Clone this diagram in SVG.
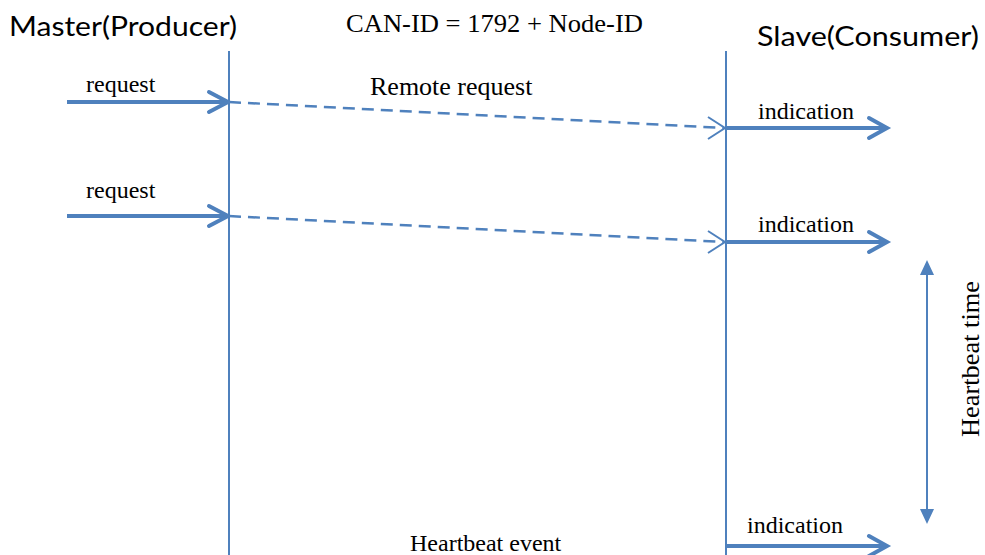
<svg xmlns="http://www.w3.org/2000/svg" width="985" height="555" viewBox="0 0 985 555">
<style>
.life{stroke:#4f81bd;stroke-width:2;fill:none}
.msg{stroke:#4f81bd;stroke-width:4;fill:none}
.head{stroke:#4f81bd;stroke-width:4;fill:none;stroke-linecap:round;stroke-linejoin:miter}
.dash{stroke:#4f81bd;stroke-width:2.5;fill:none;stroke-dasharray:12 7}
.dhead{stroke:#4f81bd;stroke-width:2;fill:none}
.tri{fill:#4f81bd}
.serif{font-family:"Liberation Serif","Times New Roman",serif;fill:#000}
.sans{font-family:Lato,"Liberation Sans",Arial,sans-serif;fill:#000}
</style>
<rect width="985" height="555" fill="#fff"/>
<g id="master">
<text class="sans" x="9" y="36" font-size="27" textLength="228" lengthAdjust="spacingAndGlyphs">Master(Producer)</text>
<line class="life" x1="229" y1="51" x2="229" y2="555"/>
</g>
<g id="slave">
<text class="sans" x="757" y="46" font-size="27" textLength="222" lengthAdjust="spacingAndGlyphs">Slave(Consumer)</text>
<line class="life" x1="726" y1="51" x2="726" y2="555"/>
</g>
<g id="canid"><text class="serif" x="346" y="32" font-size="26" textLength="297" lengthAdjust="spacingAndGlyphs">CAN-ID = 1792 + Node-ID</text></g>
<g id="heartbeat-time"><text class="serif" font-size="25" text-anchor="middle" textLength="156" lengthAdjust="spacingAndGlyphs" transform="translate(979,359) rotate(-90)">Heartbeat time</text></g>
<g id="connectors">
<!-- request 1 -->
<line class="msg" x1="67" y1="102" x2="227" y2="102"/>
<polyline class="head" points="209,92 228,102 209,112"/>
<text class="serif" x="86" y="92" font-size="24">request</text>
<line class="dash" x1="229" y1="102" x2="724" y2="128"/>
<polyline class="dhead" points="708,117 725,128 708,139"/>
<text class="serif" x="370" y="95" font-size="26">Remote request</text>
<line class="msg" x1="726" y1="128" x2="886" y2="128"/>
<polyline class="head" points="869,118 887,128 869,138"/>
<text class="serif" x="758" y="119" font-size="24">indication</text>
<!-- request 2 -->
<line class="msg" x1="67" y1="216" x2="227" y2="216"/>
<polyline class="head" points="209,206 228,216 209,226"/>
<text class="serif" x="86" y="198" font-size="24">request</text>
<line class="dash" x1="229" y1="216" x2="724" y2="242"/>
<polyline class="dhead" points="708,231 725,242 708,253"/>
<line class="msg" x1="726" y1="242" x2="886" y2="242"/>
<polyline class="head" points="869,232 887,242 869,252"/>
<text class="serif" x="758" y="232" font-size="24">indication</text>
<!-- heartbeat time -->
<line class="life" x1="927" y1="272" x2="927" y2="512"/>
<polygon class="tri" points="927,260 920,275 934,275"/>
<polygon class="tri" points="927,524 920,509 934,509"/>
<!-- heartbeat event -->
<line class="msg" x1="726" y1="546" x2="886" y2="546"/>
<polyline class="head" points="869,536 887,546 869,556"/>
<text class="serif" x="747" y="533" font-size="24">indication</text>
<text class="serif" x="410" y="551" font-size="24">Heartbeat event</text>
</g>
</svg>
